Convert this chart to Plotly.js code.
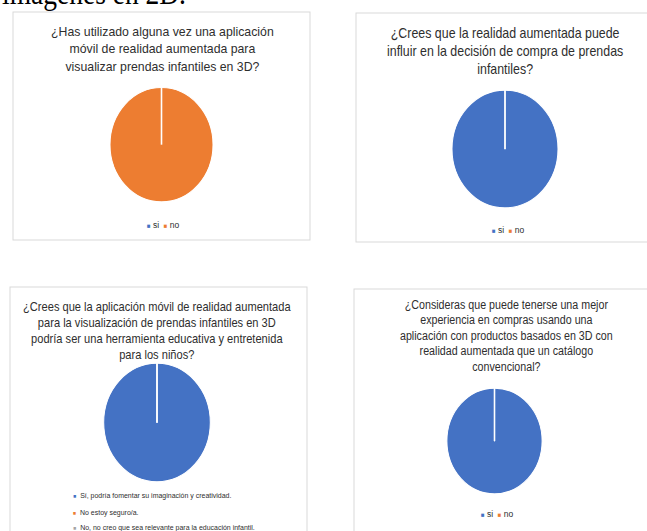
<!DOCTYPE html>
<html>
<head>
<meta charset="utf-8">
<script src="https://cdn.plot.ly/plotly-3.0.1.min.js"></script>
<style>
  html { margin: 0; padding: 0; background: #ffffff; overflow: hidden; height: 531px; }
  body { margin: 0; padding: 0; background: #ffffff; height: 531px; }
  #wrap { width: 647px; height: 531px; position: relative; }
  #chart { width: 647px; height: 478px; transform: scaleY(1.1109); transform-origin: 0 0; }
</style>
</head>
<body>
<div id="wrap"><div id="chart"></div></div>
<script>
// ---------- data ----------
const headerText = 'imágenes en 2D.';

const title1 = '¿Has utilizado alguna vez una aplicación<br>móvil de realidad aumentada para<br>visualizar prendas infantiles en 3D?';
const labels1 = ['si', 'no'];
const values1 = [0, 100];

const title2 = '¿Crees que la realidad aumentada puede<br>influir en la decisión de compra de prendas<br>infantiles?';
const labels2 = ['si', 'no'];
const values2 = [100, 0];

const title3 = '¿Crees que la aplicación móvil de realidad aumentada<br>para la visualización de prendas infantiles en 3D<br>podría ser una herramienta educativa y entretenida<br>para los niños?';
const labels3 = ['Sí, podría fomentar su imaginación y creatividad.', 'No estoy seguro/a.', 'No, no creo que sea relevante para la educación infantil.'];
const values3 = [100, 0, 0];

const title4 = '¿Consideras que puede tenerse una mejor<br>experiencia en compras usando una<br>aplicación con productos basados en 3D con<br>realidad aumentada que un catálogo<br>convencional?';
const labels4 = ['si', 'no'];
const values4 = [100, 0];

// ---------- styles / geometry ----------
const palette = ['#4472C4', '#ED7D31', '#A5A5A5'];
const W = 647, H = 478, S = 531 / 478;
const FONT = '"Liberation Sans", Arial, sans-serif';
const TXT = '#2e2e2e';
const px = x => x / W;
const py = y => 1 - (y / S) / H;

// pie geometry (screen coords: centre x, centre y, radius in unscaled px)
const pies = [
  {labels: labels1, values: values1, cx: 161.5, cy: 144.7, r: 51.5},
  {labels: labels2, values: values2, cx: 505,   cy: 149,   r: 53},
  {labels: labels3, values: values3, cx: 157,   cy: 422.5, r: 53.3},
  {labels: labels4, values: values4, cx: 494.5, cy: 441,   r: 47.6}
];

const data = pies.map(p => {
  const cyu = p.cy / S;
  return {
    type: 'pie',
    labels: p.labels,
    values: p.values,
    sort: false,
    direction: 'clockwise',
    rotation: 0,
    textinfo: 'none',
    hoverinfo: 'none',
    marker: {colors: palette.slice(0, p.labels.length), line: {color: '#ffffff', width: 1}},
    domain: {
      x: [(p.cx - p.r) / W, (p.cx + p.r) / W],
      y: [1 - (cyu + p.r) / H, 1 - (cyu - p.r) / H]
    }
  };
});

// boxes around each chart (screen coords)
const boxes = [[13, 12, 310, 240], [356, 13, 660, 242], [10, 287, 307, 545], [354, 289, 660, 545]];
const shapes = boxes.map(b => ({
  type: 'rect', xref: 'paper', yref: 'paper',
  x0: px(b[0]), x1: px(b[2]), y0: py(b[3]), y1: py(b[1]),
  line: {color: '#D9D9D9', width: 1}, fillcolor: 'rgba(0,0,0,0)', layer: 'below'
}));
// white seam line at the start angle of each full slice
pies.forEach(p => {
  const cyu = p.cy / S;
  shapes.push({
    type: 'line', xref: 'paper', yref: 'paper',
    x0: px(p.cx), x1: px(p.cx), y0: 1 - cyu / H, y1: 1 - (cyu - p.r) / H,
    line: {color: '#ffffff', width: 1.6}, layer: 'above'
  });
});

const annotations = [];
// header text from the page
annotations.push({
  text: headerText, xref: 'paper', yref: 'paper', x: 0, y: 1,
  xanchor: 'left', yanchor: 'bottom', yshift: -12, showarrow: false,
  font: {family: '"Liberation Serif", "Times New Roman", serif', size: 27.5, color: '#000000'}
});
// titles
const titles = [
  {t: title1, x: 162.5, y: 49,  size: 12.3},
  {t: title2, x: 505,   y: 51.5, size: 12.4},
  {t: title3, x: 157,   y: 331, size: 11.1},
  {t: title4, x: 506,   y: 336, size: 10.7}
];
titles.forEach(t => annotations.push({
  text: t.t, xref: 'paper', yref: 'paper', x: px(t.x), y: py(t.y),
  xanchor: 'center', yanchor: 'middle', align: 'center', showarrow: false,
  font: {family: FONT, size: t.size, color: TXT}
}));

// legends (built from the label arrays)
const sq = (c, s) => '<span style="color:' + c + ';font-size:' + s + 'px">■</span>';
function inlineLegend(labels, x, y, size) {
  const txt = labels.map((l, i) => sq(palette[i], size * 0.7) + ' ' + l).join('  ');
  annotations.push({
    text: txt, xref: 'paper', yref: 'paper', x: px(x), y: py(y),
    xanchor: 'center', yanchor: 'middle', showarrow: false,
    font: {family: FONT, size: size, color: TXT}
  });
}
inlineLegend(labels1, 163, 224, 8.5);
inlineLegend(labels2, 508, 230, 8.5);
inlineLegend(labels4, 497, 513, 8.5);
const leg3y = [495, 513, 528];
labels3.forEach((l, i) => annotations.push({
  text: sq(palette[i], 5) + '  ' + l, xref: 'paper', yref: 'paper', x: px(71), y: py(leg3y[i]),
  xanchor: 'left', yanchor: 'middle', showarrow: false,
  font: {family: FONT, size: 7, color: TXT}
}));

const layout = {
  width: W, height: H,
  margin: {l: 0, r: 0, t: 0, b: 0},
  paper_bgcolor: '#ffffff', plot_bgcolor: '#ffffff',
  showlegend: false,
  shapes: shapes,
  annotations: annotations
};

Plotly.newPlot('chart', data, layout, {displayModeBar: false, staticPlot: true});
</script>
</body>
</html>
